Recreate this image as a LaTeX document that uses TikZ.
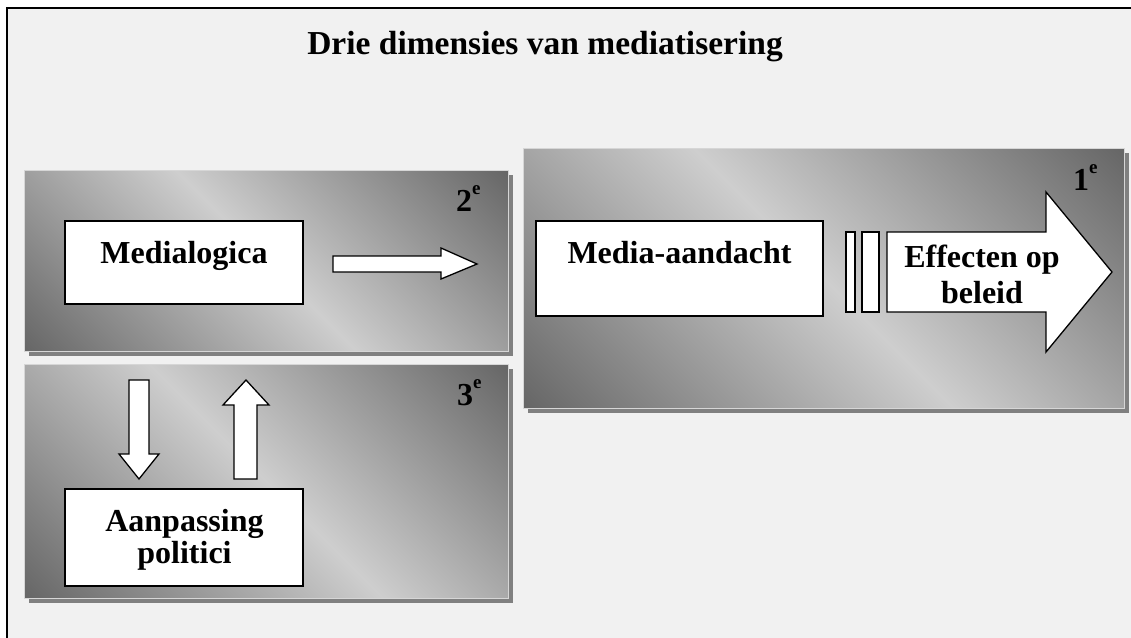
\documentclass[tikz,border=0pt]{standalone}
\usepackage{fontspec}
\setmainfont{Liberation Serif}
\usetikzlibrary{shadows}
\definecolor{pdark}{HTML}{666666}
\definecolor{plight}{HTML}{CECECE}
\definecolor{bgc}{HTML}{F1F1F1}
\definecolor{shadowc}{HTML}{808080}
\definecolor{paneledge}{HTML}{D6D6D6}
\pgfdeclareverticalshading{panelgrad}{100bp}{color(0bp)=(pdark); color(32.3bp)=(pdark); color(50bp)=(plight); color(67.7bp)=(pdark); color(100bp)=(pdark)}
\newcommand{\ordsup}[1]{#1\raisebox{17pt}{\fontsize{19}{20}\selectfont e}}
\tikzset{
  panelbox/.style={draw=paneledge, line width=1pt, inner sep=0pt, outer sep=0pt,
    drop shadow={shadow xshift=5pt, shadow yshift=-5pt, fill=shadowc, opacity=1, draw=none},
    path picture={\shade[shading=panelgrad, shading angle=-45]
      ([shift={(-#1/2,-#1/2)}]path picture bounding box.center) rectangle ++(#1,#1);}},
  whitebox/.style={draw=black, line width=1.8pt, fill=white, inner sep=0pt, outer sep=0pt},
  barbox/.style={draw=black, line width=1.3pt, fill=white, inner sep=0pt, outer sep=0pt, minimum width=#1, minimum height=80pt},
  blockarrow/.style={draw=black, line width=1.3pt, fill=white, line join=miter},
  lbl/.style={font=\fontsize{32}{36}\selectfont\bfseries, anchor=base, inner sep=0pt},
  ordlbl/.style={font=\fontsize{32}{36}\selectfont\bfseries, anchor=base west, inner sep=0pt},
}
\begin{document}
\begin{tikzpicture}[x=1pt, y=-1pt]
\useasboundingbox (0,0) rectangle (1131,637);
\fill[white] (0,0) rectangle (1131,637);
% outer frame
\draw[line width=1.6pt, fill=bgc] (7,8) rectangle (1145,650);

% title
\node[font=\fontsize{33.5}{40}\selectfont\bfseries, anchor=base, inner sep=0pt] (title) at (545,54) {Drie dimensies van mediatisering};

% panels
\node[panelbox=861pt, minimum width=601pt, minimum height=260pt] (p1) at (823.5,278) {};
\node[panelbox=665pt, minimum width=484pt, minimum height=181pt] (p2) at (266,260.5) {};
\node[panelbox=718pt, minimum width=484pt, minimum height=234pt] (p3) at (266,481) {};

% ordinal labels
\node[ordlbl] (o1) at (1073,190) {\ordsup{1}};
\node[ordlbl] (o2) at (456,211) {\ordsup{2}};
\node[ordlbl] (o3) at (457,405) {\ordsup{3}};

% white boxes
\node[whitebox, minimum width=238pt, minimum height=83pt] (bMedialogica) at (184,262.5) {};
\node[whitebox, minimum width=287pt, minimum height=95pt] (bMedia) at (679.5,268.5) {};
\node[whitebox, minimum width=238pt, minimum height=97pt] (bAanpassing) at (184,537.5) {};

\node[lbl] (tMedialogica) at (184,263) {Medialogica};
\node[lbl] (tMedia) at (679.5,263) {Media-aandacht};
\node[lbl] (tAan1) at (184.5,531) {Aanpassing};
\node[lbl] (tAan2) at (184.5,563) {politici};

% bars
\node[barbox=9pt] (bar1) at (850.5,272) {};
\node[barbox=17pt] (bar2) at (870.5,272) {};

% big arrow
\draw[blockarrow] (887,232) -- (1046,232) -- (1046,192) -- (1112,272) -- (1046,352) -- (1046,312) -- (887,312) -- cycle;
\node[lbl] (tEff1) at (982,267) {Effecten op};
\node[lbl] (tEff2) at (982,303) {beleid};

% medialogica arrow
\draw[blockarrow] (333,256) -- (441,256) -- (441,248) -- (477,264) -- (441,279) -- (441,272) -- (333,272) -- cycle;

% down arrow
\draw[blockarrow] (129,380) -- (149,380) -- (149,454) -- (159,454) -- (139,479) -- (119,454) -- (129,454) -- cycle;
% up arrow
\draw[blockarrow] (234,479) -- (257,479) -- (257,405) -- (269,405) -- (246,380) -- (223,405) -- (234,405) -- cycle;
\end{tikzpicture}
\end{document}
